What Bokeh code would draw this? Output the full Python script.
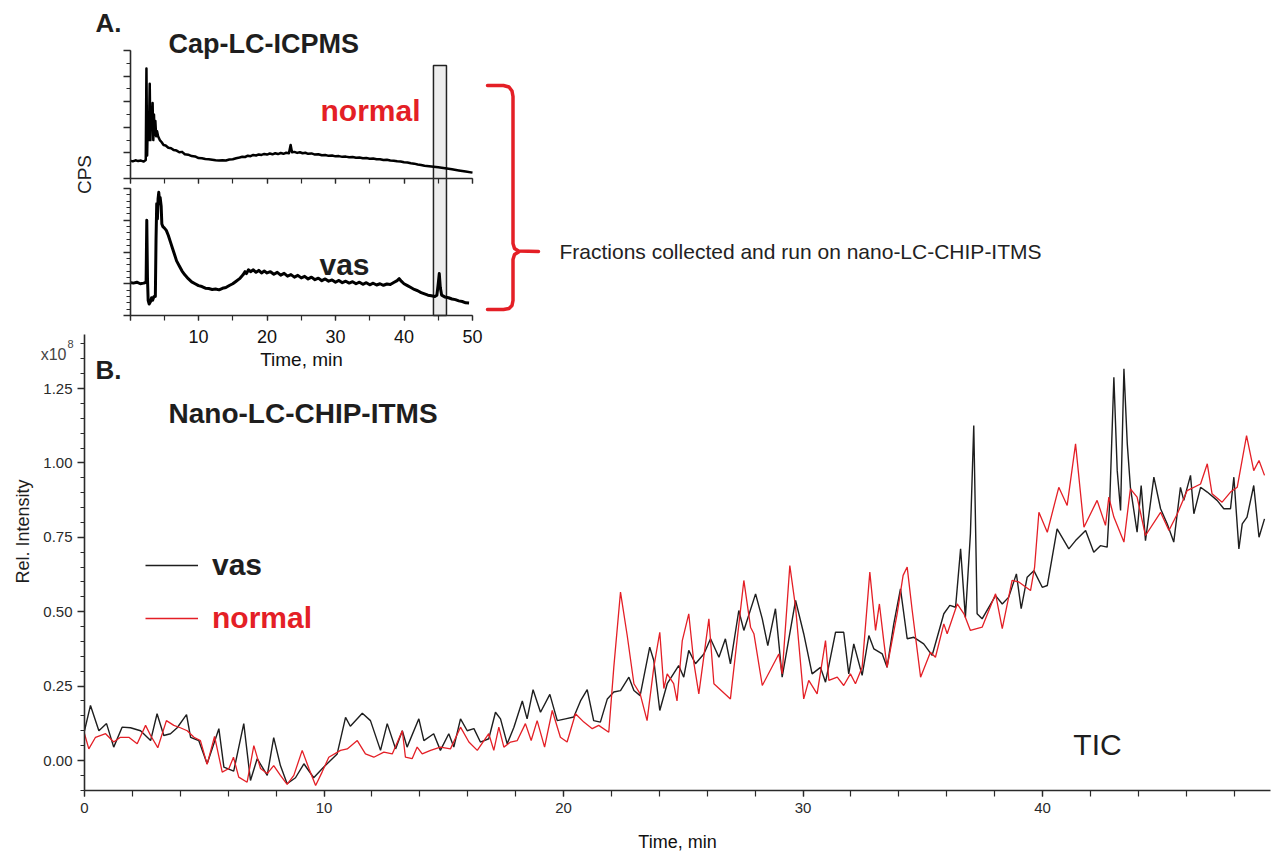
from bokeh.plotting import figure
from bokeh.models import (Range1d, LinearAxis, SingleIntervalTicker, PrintfTickFormatter,
                          Legend, LegendItem)
from bokeh.core.properties import value
from bokeh.embed import file_html
from bokeh.resources import INLINE
import numpy as np

# ======================= DATA =======================
# Panel A: Cap-LC-ICPMS traces (time in min, signal in relative CPS units)
a_normal = [
    (0.0, 0.140), (0.4, 0.134), (0.8, 0.142), (1.2, 0.136), (1.6, 0.140), (2.0, 0.132), (2.3, 0.145),
    (2.4, 0.860), (2.5, 0.180), (2.6, 0.460), (2.75, 0.300), (2.88, 0.740), (2.98, 0.300), (3.08, 0.550),
    (3.2, 0.380), (3.3, 0.590), (3.4, 0.300), (3.5, 0.500), (3.6, 0.340), (3.7, 0.450), (3.82, 0.330),
    (3.95, 0.370), (4.1, 0.330), (4.35, 0.300), (4.6, 0.285), (4.9, 0.262), (5.2, 0.258), (5.6, 0.240),
    (6.0, 0.236), (6.4, 0.222), (6.8, 0.218), (7.2, 0.205), (7.6, 0.208), (8.0, 0.190), (8.5, 0.186),
    (9.0, 0.175), (9.5, 0.172), (10.0, 0.160), (10.5, 0.158), (11.0, 0.152), (11.5, 0.150), (12.0, 0.146),
    (12.5, 0.142), (13.0, 0.140), (13.5, 0.143), (14.0, 0.141), (14.5, 0.148), (15.0, 0.150), (15.5, 0.158),
    (16.0, 0.164), (16.4, 0.170), (16.8, 0.168), (17.2, 0.178), (17.6, 0.174), (18.0, 0.184), (18.4, 0.180),
    (18.8, 0.188), (19.2, 0.184), (19.6, 0.192), (20.0, 0.187), (20.4, 0.195), (20.8, 0.189), (21.2, 0.197),
    (21.6, 0.191), (22.0, 0.199), (22.4, 0.193), (22.8, 0.201), (23.2, 0.197), (23.45, 0.262), (23.65, 0.205),
    (24.0, 0.208), (24.4, 0.200), (24.8, 0.205), (25.2, 0.197), (25.6, 0.201), (26.0, 0.193), (26.5, 0.196),
    (27.0, 0.187), (27.5, 0.190), (28.0, 0.182), (28.5, 0.184), (29.0, 0.177), (29.5, 0.180), (30.0, 0.173),
    (30.5, 0.175), (31.0, 0.169), (31.5, 0.171), (32.0, 0.166), (32.5, 0.168), (33.0, 0.162), (33.5, 0.164),
    (34.0, 0.158), (34.5, 0.160), (35.0, 0.155), (35.5, 0.156), (36.0, 0.150), (36.5, 0.151), (37.0, 0.145),
    (37.5, 0.146), (38.0, 0.140), (38.5, 0.139), (39.0, 0.134), (39.5, 0.133), (40.0, 0.127), (40.5, 0.125),
    (41.0, 0.119), (41.5, 0.116), (42.0, 0.110), (42.5, 0.106), (43.0, 0.100), (44.0, 0.094), (45.0, 0.087),
    (46.0, 0.080), (47.0, 0.072), (48.0, 0.063), (49.0, 0.055), (50.0, 0.046)]

a_vas = [
    (0.0, 0.260), (0.5, 0.255), (1.0, 0.262), (1.5, 0.250), (2.0, 0.255), (2.35, 0.262), (2.45, 0.750),
    (2.55, 0.300), (2.65, 0.120), (2.8, 0.090), (3.0, 0.110), (3.15, 0.140), (3.3, 0.120), (3.5, 0.150),
    (3.7, 0.150), (3.8, 0.600), (3.9, 0.880), (4.0, 0.760), (4.1, 0.920), (4.2, 0.970), (4.3, 0.910),
    (4.4, 0.930), (4.55, 0.860), (4.65, 0.720), (4.8, 0.700), (5.0, 0.690), (5.3, 0.670), (5.6, 0.630),
    (5.9, 0.580), (6.2, 0.530), (6.5, 0.480), (6.8, 0.430), (7.2, 0.390), (7.6, 0.350), (8.0, 0.320),
    (8.5, 0.290), (9.0, 0.265), (9.5, 0.250), (10.0, 0.235), (10.5, 0.228), (11.0, 0.215), (11.5, 0.212),
    (12.0, 0.205), (12.5, 0.208), (13.0, 0.202), (13.5, 0.214), (14.0, 0.220), (14.5, 0.236), (15.0, 0.250),
    (15.5, 0.270), (16.0, 0.290), (16.5, 0.320), (16.8, 0.345), (17.0, 0.330), (17.3, 0.360), (17.6, 0.345),
    (18.0, 0.360), (18.4, 0.340), (18.8, 0.355), (19.2, 0.335), (19.6, 0.350), (20.0, 0.335), (20.5, 0.345),
    (21.0, 0.325), (21.5, 0.340), (22.0, 0.318), (22.5, 0.332), (23.0, 0.310), (23.5, 0.322), (24.0, 0.302),
    (24.5, 0.316), (25.0, 0.296), (25.5, 0.308), (26.0, 0.288), (26.5, 0.302), (27.0, 0.282), (27.5, 0.294),
    (28.0, 0.274), (28.5, 0.288), (29.0, 0.270), (29.5, 0.280), (30.0, 0.262), (30.5, 0.276), (31.0, 0.258),
    (31.5, 0.270), (32.0, 0.255), (32.5, 0.266), (33.0, 0.250), (33.5, 0.262), (34.0, 0.246), (34.5, 0.258),
    (35.0, 0.242), (35.5, 0.254), (36.0, 0.240), (36.5, 0.250), (37.0, 0.238), (37.5, 0.248), (38.0, 0.244),
    (38.5, 0.260), (39.0, 0.275), (39.3, 0.290), (39.6, 0.270), (40.0, 0.250), (40.5, 0.235), (41.0, 0.220),
    (41.5, 0.205), (42.0, 0.195), (42.5, 0.180), (43.0, 0.170), (43.5, 0.160), (44.0, 0.155), (44.5, 0.150),
    (44.8, 0.160), (45.0, 0.250), (45.15, 0.330), (45.3, 0.220), (45.5, 0.160), (46.0, 0.145), (46.5, 0.140),
    (47.0, 0.130), (47.5, 0.125), (48.0, 0.115), (48.5, 0.110), (49.0, 0.100), (49.5, 0.098)]

# collected fraction window (min)
a_fraction_start = [44.3]
a_fraction_end = [46.2]

# Panel B: Nano-LC-CHIP-ITMS TIC (time in min, rel. intensity x1e8)
b_vas = [
    (0.0, 0.100), (0.25, 0.185), (0.6, 0.100), (0.92, 0.124), (1.22, 0.045), (1.57, 0.112), (1.92, 0.110),
    (2.34, 0.100), (2.76, 0.067), (3.03, 0.157), (3.31, 0.084), (3.59, 0.090), (3.87, 0.110), (4.26, 0.154),
    (4.43, 0.078), (4.77, 0.067), (5.12, -0.011), (5.61, 0.107), (5.82, -0.022), (6.23, -0.036), (6.65, 0.124),
    (6.93, -0.067), (7.21, 0.006), (7.63, -0.050), (7.9, 0.077), (8.18, -0.017), (8.46, -0.078), (8.81, -0.058),
    (9.16, -0.011), (9.57, -0.058), (9.99, -0.022), (10.55, 0.022), (10.9, 0.145), (11.1, 0.115), (11.6, 0.159),
    (11.94, 0.134), (12.36, 0.034), (12.64, 0.124), (12.99, 0.039), (13.27, 0.100), (13.47, 0.045), (13.96, 0.140),
    (14.17, 0.067), (14.58, 0.090), (14.86, 0.034), (15.21, 0.090), (15.42, 0.045), (15.7, 0.140), (15.98, 0.100),
    (16.26, 0.107), (16.53, 0.062), (16.88, 0.073), (17.16, 0.162), (17.37, 0.140), (17.65, 0.056), (17.93, 0.112),
    (18.28, 0.200), (18.48, 0.140), (18.73, 0.238), (19.04, 0.162), (19.43, 0.222), (19.74, 0.134), (20.08, 0.140),
    (20.43, 0.146), (20.71, 0.200), (20.99, 0.238), (21.26, 0.134), (21.54, 0.129), (21.83, 0.207), (22.1, 0.230),
    (22.38, 0.235), (22.73, 0.280), (22.94, 0.235), (23.2, 0.218), (23.6, 0.381), (23.77, 0.336), (24.02, 0.168),
    (24.33, 0.258), (24.81, 0.319), (25.02, 0.280), (25.23, 0.370), (25.51, 0.325), (25.86, 0.358), (26.14, 0.409),
    (26.49, 0.347), (26.76, 0.409), (26.97, 0.325), (27.32, 0.504), (27.53, 0.437), (28.02, 0.560), (28.3, 0.476),
    (28.53, 0.386), (28.85, 0.510), (29.13, 0.280), (29.69, 0.538), (30.03, 0.426), (30.38, 0.291), (30.73, 0.313),
    (30.94, 0.263), (31.36, 0.431), (31.7, 0.431), (31.91, 0.291), (32.12, 0.392), (32.47, 0.286), (32.75, 0.420),
    (32.96, 0.375), (33.31, 0.358), (33.51, 0.313), (33.79, 0.459), (34.07, 0.577), (34.35, 0.409), (34.63, 0.414),
    (35.04, 0.392), (35.39, 0.353), (35.88, 0.493), (36.13, 0.521), (36.37, 0.515), (36.58, 0.711), (36.78, 0.481),
    (36.99, 0.762), (37.13, 1.126), (37.27, 0.493), (37.48, 0.476), (38.04, 0.554), (38.32, 0.526), (38.59, 0.549),
    (38.91, 0.627), (39.11, 0.510), (39.36, 0.616), (39.64, 0.638), (39.99, 0.582), (40.2, 0.588), (40.61, 0.778),
    (41.1, 0.711), (41.38, 0.739), (41.8, 0.773), (42.14, 0.700), (42.42, 0.722), (42.7, 0.717), (42.81, 0.874),
    (42.98, 1.288), (43.12, 0.974), (43.26, 0.840), (43.4, 1.316), (43.54, 1.064), (43.67, 0.918), (43.95, 0.767),
    (44.12, 0.924), (44.3, 0.739), (44.65, 0.952), (44.93, 0.846), (45.21, 0.795), (45.48, 0.734), (45.76, 0.918),
    (45.9, 0.874), (46.18, 0.958), (46.32, 0.829), (46.6, 0.918), (46.88, 0.902), (47.29, 0.874), (47.57, 0.846),
    (47.85, 0.846), (47.99, 0.952), (48.2, 0.711), (48.34, 0.795), (48.54, 0.818), (48.82, 0.924), (49.04, 0.750),
    (49.27, 0.812)]

b_normal = [
    (0.0, 0.090), (0.18, 0.039), (0.46, 0.078), (0.88, 0.090), (1.22, 0.062), (1.5, 0.078), (1.85, 0.078),
    (2.2, 0.056), (2.55, 0.118), (2.76, 0.084), (3.06, 0.043), (3.42, 0.134), (3.73, 0.118), (4.0, 0.110),
    (4.29, 0.100), (4.57, 0.078), (4.84, 0.067), (5.12, -0.013), (5.43, 0.081), (5.75, -0.039), (6.03, -0.027),
    (6.22, 0.011), (6.44, -0.056), (6.79, -0.073), (7.07, 0.050), (7.35, -0.027), (7.63, -0.044), (7.9, -0.017),
    (8.18, -0.050), (8.46, -0.080), (8.74, -0.050), (9.09, 0.034), (9.37, -0.027), (9.65, -0.084), (9.92, -0.039),
    (10.2, 0.011), (10.69, 0.034), (10.97, 0.039), (11.39, 0.067), (11.73, 0.022), (12.08, 0.011), (12.5, 0.028),
    (12.85, 0.022), (13.27, 0.100), (13.4, 0.011), (13.68, 0.006), (13.89, 0.045), (14.1, 0.022), (14.45, 0.034),
    (14.86, 0.045), (15.28, 0.039), (15.7, 0.112), (16.05, 0.062), (16.4, 0.034), (16.88, 0.090), (17.09, 0.034),
    (17.3, 0.112), (17.51, 0.045), (17.79, 0.062), (18.07, 0.067), (18.41, 0.124), (18.65, 0.067), (18.9, 0.134),
    (19.21, 0.045), (19.53, 0.168), (19.87, 0.078), (20.15, 0.062), (20.5, 0.157), (20.85, 0.129), (21.2, 0.107),
    (21.47, 0.118), (21.89, 0.095), (22.1, 0.313), (22.38, 0.566), (22.66, 0.420), (22.94, 0.258), (23.2, 0.224),
    (23.49, 0.134), (23.77, 0.313), (24.02, 0.431), (24.19, 0.242), (24.33, 0.291), (24.6, 0.258), (24.74, 0.200),
    (24.96, 0.403), (25.23, 0.493), (25.44, 0.330), (25.65, 0.224), (26.07, 0.476), (26.28, 0.258), (26.97, 0.207),
    (27.53, 0.605), (27.81, 0.448), (27.95, 0.426), (28.3, 0.252), (28.99, 0.358), (29.13, 0.291), (29.45, 0.655),
    (29.69, 0.515), (30.03, 0.207), (30.24, 0.269), (30.59, 0.224), (30.94, 0.403), (31.08, 0.269), (31.43, 0.280),
    (31.7, 0.252), (31.98, 0.291), (32.19, 0.258), (32.47, 0.313), (32.79, 0.633), (33.03, 0.437), (33.19, 0.526),
    (33.37, 0.403), (33.51, 0.313), (33.93, 0.493), (34.18, 0.622), (34.35, 0.650), (34.56, 0.504), (34.91, 0.280),
    (35.32, 0.364), (35.53, 0.347), (35.88, 0.459), (36.02, 0.426), (36.44, 0.526), (36.72, 0.493), (36.99, 0.437),
    (37.48, 0.448), (38.04, 0.560), (38.32, 0.443), (38.73, 0.605), (39.01, 0.600), (39.5, 0.571), (39.67, 0.650),
    (39.85, 0.834), (40.2, 0.767), (40.68, 0.918), (41.03, 0.857), (41.38, 1.064), (41.73, 0.784), (42.28, 0.874),
    (42.63, 0.790), (42.77, 0.885), (42.98, 0.818), (43.4, 0.734), (43.67, 0.913), (43.95, 0.885), (44.3, 0.756),
    (44.93, 0.834), (45.28, 0.773), (45.63, 0.829), (46.04, 0.907), (46.6, 0.929), (46.88, 0.997), (47.08, 0.896),
    (47.5, 0.868), (47.85, 0.902), (48.13, 0.918), (48.52, 1.092), (48.82, 0.974), (49.04, 1.008), (49.27, 0.958)]

a_normal_time, a_normal_cps = map(list, zip(*a_normal))
a_vas_time, a_vas_cps = map(list, zip(*a_vas))
b_vas_time, b_vas_int = map(list, zip(*b_vas))
b_normal_time, b_normal_int = map(list, zip(*b_normal))

# ======================= LAYOUT =======================
W, H = 1274, 854
FONT = "Liberation Sans"
RED = "#e41f26"
INK = "#1e1e1e"

# panel B mapping (pixels of the canvas)
BX0, BXS = 84.0, 23.95      # px of t=0, px per min
BY0, BYS = 760.0, 297.6     # px of 0.00, px per unit
# panel A mapping
AX0, AXS = 129.5, 6.85
AT0, ATS = 178.0, 128.0     # top trace baseline px, px per unit
AB0, ABS = 315.0, 127.0     # bottom trace baseline px, px per unit


def bx(px):
    return (px - BX0) / BXS


def by(py):
    return (BY0 - py) / BYS


p = figure(width=W, height=H,
           x_range=Range1d(bx(0), bx(W)), y_range=Range1d(by(H), by(0)),
           x_axis_location=None, y_axis_location=None, title_location=None,
           toolbar_location=None, output_backend="svg", min_border=0,
           outline_line_color=None, background_fill_color="white", border_fill_color="white")
p.grid.visible = False
p.extra_x_ranges = {"ta": Range1d(-AX0 / AXS, (W - AX0) / AXS)}
p.extra_y_ranges = {"a_top": Range1d(-(H - AT0) / ATS, AT0 / ATS),
                    "a_bot": Range1d(-(H - AB0) / ABS, AB0 / ABS)}


def style_axis(ax, lab_size="15px", line_w=1.6):
    ax.axis_line_color = "#2a2a2a"
    ax.axis_line_width = line_w
    ax.major_tick_line_color = "#2a2a2a"
    ax.minor_tick_line_color = "#2a2a2a"
    ax.major_tick_line_width = 1.3
    ax.minor_tick_line_width = 1.2
    ax.major_tick_in = 0
    ax.minor_tick_in = 0
    ax.major_label_text_font = FONT
    ax.major_label_text_font_size = lab_size
    ax.major_label_text_color = "#2a2a2a"
    ax.axis_label_text_font = FONT
    ax.axis_label_text_font_style = "normal"
    ax.axis_label_text_color = "#111111"


# ---------------- panel A ----------------
p.quad(left=a_fraction_start, right=a_fraction_end, bottom=[0], top=[(AB0 - 65) / ABS],
       x_range_name="ta", y_range_name="a_bot",
       fill_color="#ededed", line_color="#222222", line_width=1.5)
p.line(a_normal_time, a_normal_cps, x_range_name="ta", y_range_name="a_top",
       line_color="black", line_width=2.5, line_join="round")
p.line(a_vas_time, a_vas_cps, x_range_name="ta", y_range_name="a_bot",
       line_color="black", line_width=3.0, line_join="round")

for rng, yt in (("a_top", (0.2, 2)), ("a_bot", (0.25, 5))):
    ax = LinearAxis(x_range_name="ta", y_range_name=rng, fixed_location=0, bounds=(0, 1.0),
                    ticker=SingleIntervalTicker(interval=yt[0], num_minor_ticks=yt[1]))
    style_axis(ax, line_w=1.6)
    ax.major_tick_out = 7
    ax.minor_tick_out = 4
    ax.major_label_text_color = None
    p.add_layout(ax, "left")

ax_at = LinearAxis(x_range_name="ta", y_range_name="a_top", fixed_location=0, bounds=(0, 50),
                   ticker=SingleIntervalTicker(interval=10, num_minor_ticks=2))
style_axis(ax_at)
ax_at.major_tick_out = 5
ax_at.minor_tick_out = 5
ax_at.major_label_text_color = None
p.add_layout(ax_at, "below")

ax_ab = LinearAxis(x_range_name="ta", y_range_name="a_bot", fixed_location=0, bounds=(0, 50),
                   ticker=SingleIntervalTicker(interval=10, num_minor_ticks=2),
                   major_label_overrides={0: ""}, axis_label="Time, min")
style_axis(ax_ab, lab_size="18px")
ax_ab.major_tick_out = 5
ax_ab.minor_tick_out = 5
ax_ab.major_label_standoff = 9
ax_ab.major_label_text_color = "#111111"
ax_ab.axis_label_text_font_size = "19px"
ax_ab.axis_label_standoff = 3
p.add_layout(ax_ab, "below")

# ---------------- panel B ----------------
r_vas = p.line(b_vas_time, b_vas_int, line_color=INK, line_width=1.4)
r_norm = p.line(b_normal_time, b_normal_int, line_color=RED, line_width=1.3)

ax_by = LinearAxis(fixed_location=0, bounds=(by(790), 1.43),
                   ticker=SingleIntervalTicker(interval=0.25, num_minor_ticks=5),
                   formatter=PrintfTickFormatter(format="%.2f"))
style_axis(ax_by)
ax_by.major_tick_out = 7
ax_by.minor_tick_out = 4
ax_by.major_label_standoff = 5
p.add_layout(ax_by, "left")

ax_bx = LinearAxis(fixed_location=by(790), bounds=(0, 49.5),
                   ticker=SingleIntervalTicker(interval=10, num_minor_ticks=5), axis_label="Time, min")
style_axis(ax_bx)
ax_bx.major_tick_out = 6
ax_bx.minor_tick_out = 6
ax_bx.major_label_standoff = 6
ax_bx.axis_label_text_font_size = "18px"
ax_bx.axis_label_standoff = 16
p.add_layout(ax_bx, "below")

for label, rend, color, top in (("vas", r_vas, INK, 552), ("normal", r_norm, RED, 605)):
    leg = Legend(items=[LegendItem(label=label, renderers=[rend])],
                 location=(145, H - top - 30), padding=0, margin=0, spacing=0,
                 glyph_width=53, glyph_height=30, label_height=30, label_standoff=14,
                 label_text_font=FONT, label_text_font_size="30px", label_text_font_style="bold",
                 label_text_color=color, border_line_color=None, background_fill_alpha=0)
    p.add_layout(leg)


# ---------------- texts (py = vertical centre of the capitals) ----------------
def put(px, py, s, size, style="normal", color=INK, align="left", angle=0.0):
    p.text(x=[bx(px)], y=[by(py)], text=[s], text_font=value(FONT), text_font_size=size,
           text_font_style=style, text_color=color, text_align=align, text_baseline="middle",
           angle=angle)


put(95, 22.5, "A.", "26px", "bold")
put(168, 43, "Cap-LC-ICPMS", "27px", "bold")
put(320, 109.5, "normal", "30px", "bold", RED)
put(319, 263.5, "vas", "30px", "bold")
put(84, 174, "CPS", "19px", align="center", angle=np.pi / 2)
put(22, 531, "Rel. Intensity", "18px", align="center", angle=np.pi / 2)
put(95, 369, "B.", "26px", "bold")
put(168, 412.5, "Nano-LC-CHIP-ITMS", "28px", "bold")
put(1097, 744, "TIC", "30px", align="center")
put(559, 251, "Fractions collected and run on nano-LC-CHIP-ITMS", "21px", color="#222222")
put(66, 354, "x10", "16px", color="#444444", align="right")
put(67, 343, "8", "11px", color="#444444")

# red bracket (decoration, pixel path)
brk_top = [(487, 85), (503, 85), (508.5, 86.5), (511.5, 90.5), (512.5, 96), (512.5, 243),
           (514, 248), (518, 250.5), (538, 251)]
brk_bot = [(518, 251.5), (514, 254), (512.5, 259), (512.5, 300), (511.5, 305), (508.5, 308),
           (503, 309), (487, 309)]
p.multi_line(xs=[[bx(a) for a, _ in seg] for seg in (brk_top, brk_bot)],
             ys=[[by(b) for _, b in seg] for seg in (brk_top, brk_bot)],
             line_color=RED, line_width=3.5, line_join="round", line_cap="round")

open("out.html", "w").write(file_html(p, INLINE))
